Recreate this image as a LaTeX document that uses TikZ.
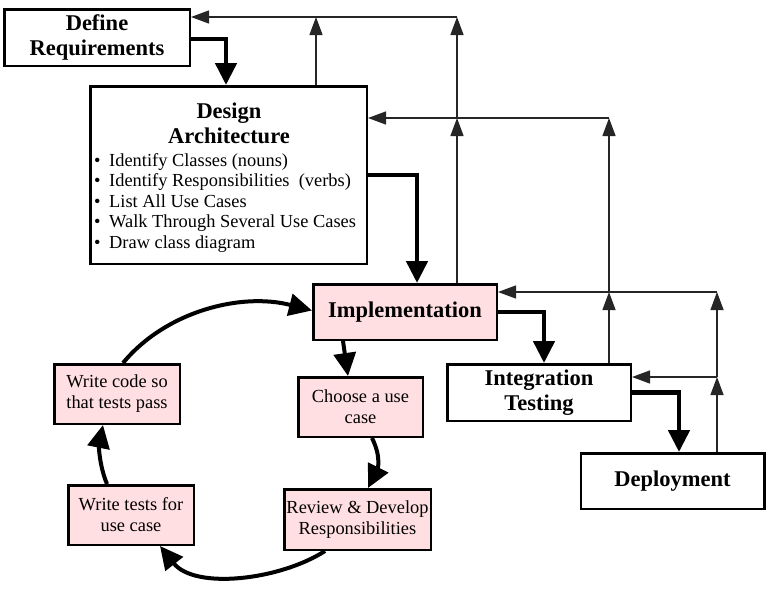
\documentclass[tikz,border=0pt]{standalone}
\usepackage{fontspec}
\setmainfont{Liberation Serif}
\usetikzlibrary{arrows.meta,calc}
\definecolor{rosefill}{RGB}{255,223,225}

\begin{document}
\begin{tikzpicture}[x=1pt,y=-1pt,
  box/.style={draw=black, line width=2.5pt, fill=white, inner sep=0pt, align=center},
  pinkbox/.style={box, fill=rosefill},
  headfont/.style={font=\bfseries\fontsize{22.5}{24.5}\selectfont},
  bodyfont/.style={font=\fontsize{18.4}{21}\selectfont},
  txt/.style={inner sep=0pt},
  mainflow/.style={line width=4.7pt, -{Triangle[length=22pt,width=21pt]}},
  cycleflow/.style={line width=4pt, -{Triangle[length=23pt,width=22pt]}},
  feedback/.style={line width=1.3pt, draw=black!85, -{Triangle[length=18pt,width=13pt]}},
]
\useasboundingbox (0,0) rectangle (767,597);

% process boxes
\node[box, headfont, minimum width=185.5pt, minimum height=56.5pt] (defreq) at (97,37.5) {Define\\Requirements};
\node[box, minimum width=276.5pt, minimum height=177.5pt] (design) at (228.5,175) {};
\node[pinkbox, headfont, minimum width=183.5pt, minimum height=55.5pt] (impl) at (405,312) {Implementation};
\node[box, headfont, minimum width=183.5pt, minimum height=56.5pt] (inttest) at (539,392.5) {Integration\\Testing};
\node[box, headfont, minimum width=183.5pt, minimum height=55.5pt] (deploy) at (672.5,481) {Deployment};

% contents of the design box
\node[txt, headfont, anchor=base] (dtitle) at (229,118) {Design};
\node[txt, headfont, anchor=base] (dsub) at (229,143) {Architecture};
\foreach \i/\y/\t in {1/166/{Identify Classes (nouns)},
                      2/186.5/{Identify Responsibilities~ (verbs)},
                      3/207/{List All Use Cases},
                      4/227.5/{Walk Through Several Use Cases},
                      5/248/{Draw class diagram}}{
  \node[txt, bodyfont, anchor=base west] (bul\i) at (94,\y) {\textbullet};
  \node[txt, bodyfont, anchor=base west] (item\i) at (109,\y) {\t};
}

% test-driven cycle
\node[pinkbox, bodyfont, minimum width=125.5pt, minimum height=59.5pt] (code) at (117,394) {Write code so\\that tests pass};
\node[pinkbox, bodyfont, minimum width=124.5pt, minimum height=59.5pt] (choose) at (360.5,407) {Choose a use\\case};
\node[pinkbox, bodyfont, minimum width=146.5pt, minimum height=60.5pt] (review) at (357.5,519.5) {Review \& Develop\\Responsibilities};
\node[pinkbox, bodyfont, minimum width=125.5pt, minimum height=59.5pt] (tests) at (131,515) {Write tests for\\use case};

% bend points of the main flow
\coordinate (ka) at (226,0);
\coordinate (kb) at (417,0);
\coordinate (kc) at (544,0);
\coordinate (kd) at (679,0);

\draw[mainflow] ($(defreq.east)+(0,1.5)$) -| (design.north -| ka);
\draw[mainflow] (design.east) -| (impl.north -| kb);
\draw[mainflow] (impl.east) -| (inttest.north -| kc);
\draw[mainflow] (inttest.east) -| (deploy.north -| kd);

% feedback junctions
\coordinate (ja) at (457,17);
\coordinate (jb) at (316,17);
\coordinate (jc) at (457,118);
\coordinate (jd) at (609,118);
\coordinate (je) at (609,292);
\coordinate (jf) at (717,292);
\coordinate (jg) at (717,377);

\draw[feedback] (impl.north -| jc) -- (jc);
\draw[feedback] (jc) -- (ja);
\draw[feedback] (ja) -- (defreq.east |- ja);
\draw[feedback] (design.north -| jb) -- (jb);
\draw[feedback] (inttest.north -| je) -- (je);
\draw[feedback] (je) -- (jd);
\draw[feedback] (jd) -- (design.east |- jd);
\draw[feedback] (deploy.north -| jg) -- (jg);
\draw[feedback] (jg) -- (jf);
\draw[feedback] (jf) -- (impl.east |- jf);
\draw[feedback] (jg) -- (inttest.east |- jg);

% cycle arrows
\draw[cycleflow] ($(impl.south)+(-62,0)$) -- ($(choose.north)+(-12.5,0)$);
\draw[cycleflow] ($(choose.south)+(11.5,0)$) .. controls (382,458) and (377,470) .. ($(review.north)+(10.5,0)$);
\draw[cycleflow] ($(review.south)+(-32.5,0)$) .. controls (280,580) and (195,590) .. ($(tests.south)+(29,0)$);
\draw[cycleflow] ($(tests.north)+(-24,0)$) .. controls (99,465) and (99,445) .. ($(code.south)+(-14,0)$);
\draw[cycleflow] ($(code.north)+(6,0)$) .. controls (165,312) and (240,292) .. ($(impl.west)+(0,-1.5)$);
\end{tikzpicture}
\end{document}
